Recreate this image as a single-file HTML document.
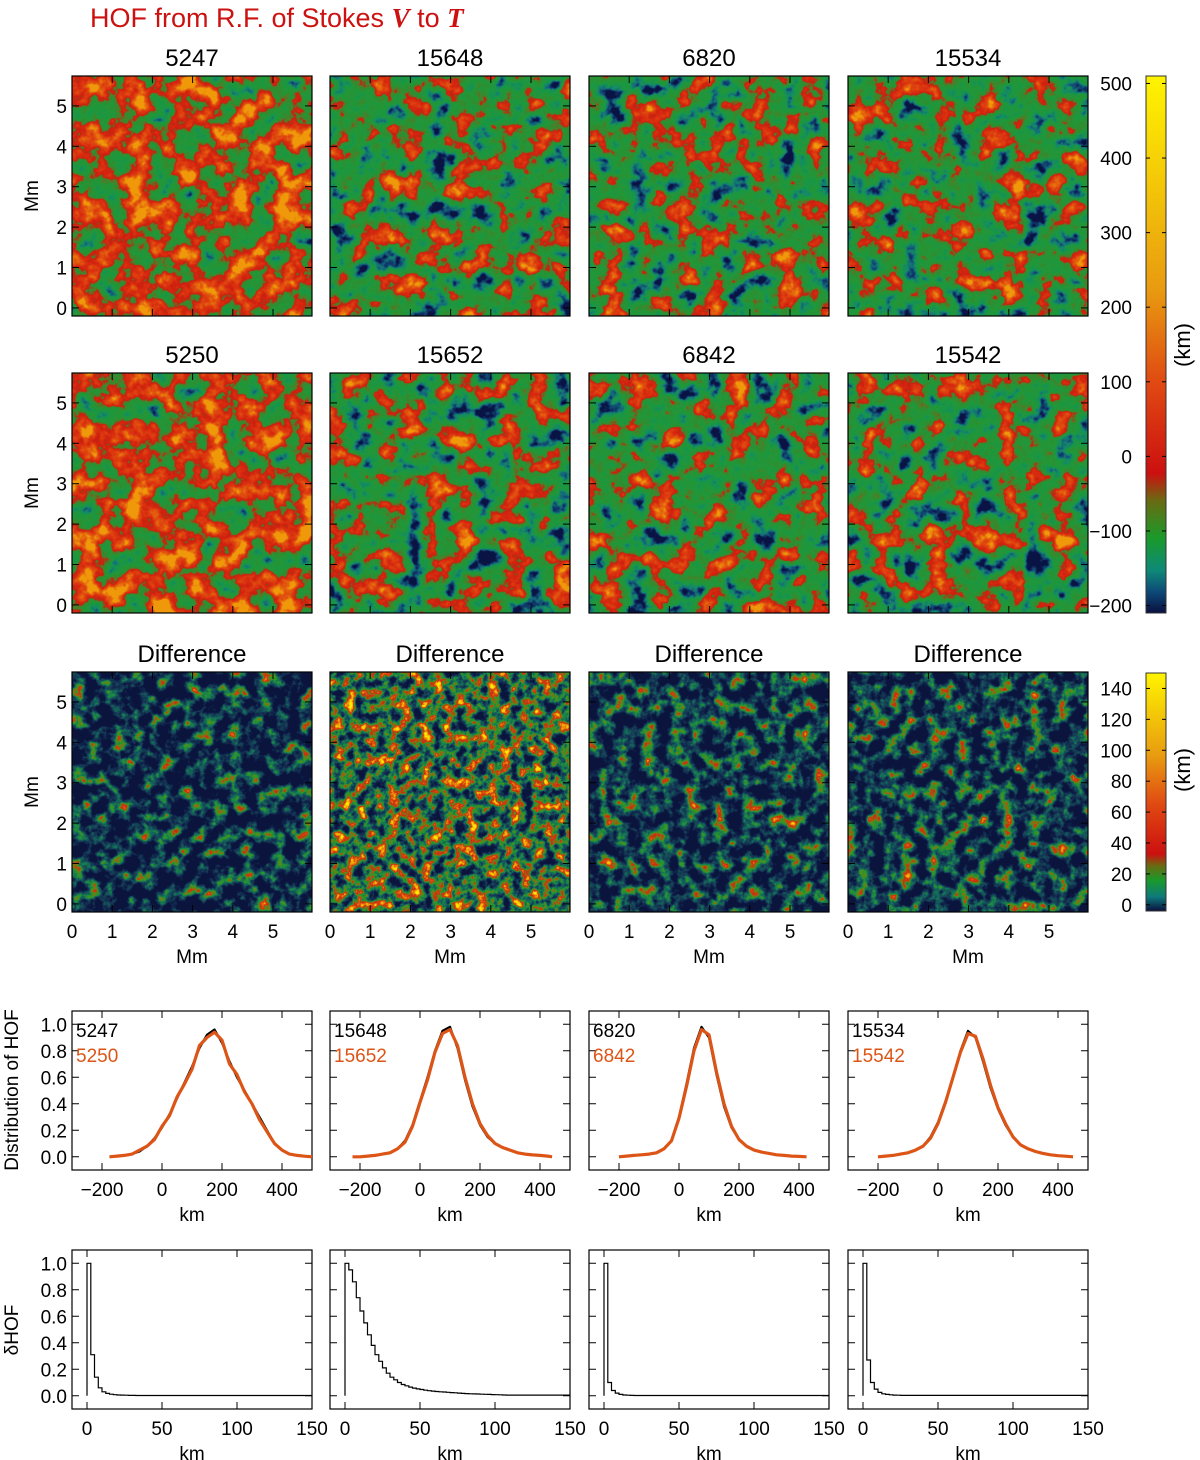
<!DOCTYPE html>
<html><head><meta charset="utf-8"><style>
html,body{margin:0;padding:0;background:#fff;}
svg{display:block;font-family:"Liberation Sans",sans-serif;}
</style></head><body>
<svg id="fig" width="1200" height="1460" viewBox="0 0 1200 1460" xmlns="http://www.w3.org/2000/svg">
<defs>
<linearGradient id="cbTop" x1="0" y1="1" x2="0" y2="0">
<stop offset="0" stop-color="#0a1040"/><stop offset="0.04" stop-color="#0d4a78"/><stop offset="0.08" stop-color="#0e8a78"/><stop offset="0.14" stop-color="#1a9a2a"/><stop offset="0.21" stop-color="#6a6a12"/><stop offset="0.26" stop-color="#cc1010"/><stop offset="0.43" stop-color="#e04a12"/><stop offset="0.6" stop-color="#e89a10"/><stop offset="1" stop-color="#fff400"/>
</linearGradient>
<linearGradient id="cbBot" x1="0" y1="1" x2="0" y2="0">
<stop offset="0" stop-color="#0a1040"/><stop offset="0.06" stop-color="#0e7a7a"/><stop offset="0.13" stop-color="#1a9a2a"/><stop offset="0.19" stop-color="#6a6a12"/><stop offset="0.24" stop-color="#cc1010"/><stop offset="0.45" stop-color="#e04a12"/><stop offset="0.65" stop-color="#e89a10"/><stop offset="1" stop-color="#fff400"/>
</linearGradient>
<filter id="mapA" x="0" y="0" width="100%" height="100%" color-interpolation-filters="sRGB">
<feTurbulence type="fractalNoise" baseFrequency="0.04" numOctaves="4" seed="7"/>
<feColorMatrix type="matrix" values="1.7 0 0 0 -0.2  1.7 0 0 0 -0.2  1.7 0 0 0 -0.2  0 0 0 0 1"/>
<feComponentTransfer>
<feFuncR type="table" tableValues="0.04 0.06 0.08 0.08 0.1 0.12 0.14 0.16 0.3 0.8 0.84 0.86 0.88 0.9 0.94"/>
<feFuncG type="table" tableValues="0.08 0.24 0.43 0.55 0.59 0.59 0.59 0.57 0.5 0.12 0.16 0.22 0.3 0.42 0.6"/>
<feFuncB type="table" tableValues="0.27 0.43 0.47 0.39 0.27 0.24 0.22 0.2 0.16 0.06 0.06 0.06 0.06 0.05 0.04"/>
</feComponentTransfer>
</filter>
<filter id="mapB" x="0" y="0" width="100%" height="100%" color-interpolation-filters="sRGB">
<feTurbulence type="fractalNoise" baseFrequency="0.04" numOctaves="4" seed="11"/>
<feColorMatrix type="matrix" values="1.7 0 0 0 -0.39  1.7 0 0 0 -0.39  1.7 0 0 0 -0.39  0 0 0 0 1"/>
<feComponentTransfer>
<feFuncR type="table" tableValues="0.04 0.06 0.08 0.08 0.1 0.12 0.14 0.16 0.3 0.8 0.84 0.86 0.88 0.9 0.94"/>
<feFuncG type="table" tableValues="0.08 0.24 0.43 0.55 0.59 0.59 0.59 0.57 0.5 0.12 0.16 0.22 0.3 0.42 0.6"/>
<feFuncB type="table" tableValues="0.27 0.43 0.47 0.39 0.27 0.24 0.22 0.2 0.16 0.06 0.06 0.06 0.06 0.05 0.04"/>
</feComponentTransfer>
</filter>
<filter id="difA" x="0" y="0" width="100%" height="100%" color-interpolation-filters="sRGB">
<feTurbulence type="fractalNoise" baseFrequency="0.07" numOctaves="4" seed="5"/>
<feColorMatrix type="matrix" values="1.8 0 0 0 -0.78  1.8 0 0 0 -0.78  1.8 0 0 0 -0.78  0 0 0 0 1"/>
<feComponentTransfer>
<feFuncR type="table" tableValues="0.04 0.06 0.08 0.08 0.08 0.12 0.24 0.6 0.8 0.86 0.92 0.96 1"/>
<feFuncG type="table" tableValues="0.08 0.14 0.22 0.31 0.43 0.55 0.59 0.4 0.16 0.31 0.55 0.75 0.92"/>
<feFuncB type="table" tableValues="0.24 0.29 0.33 0.35 0.35 0.24 0.12 0.08 0.06 0.06 0.04 0.02 0"/>
</feComponentTransfer>
</filter>
<filter id="difB" x="0" y="0" width="100%" height="100%" color-interpolation-filters="sRGB">
<feTurbulence type="fractalNoise" baseFrequency="0.09" numOctaves="4" seed="9"/>
<feColorMatrix type="matrix" values="1.9 0 0 0 -0.55  1.9 0 0 0 -0.55  1.9 0 0 0 -0.55  0 0 0 0 1"/>
<feComponentTransfer>
<feFuncR type="table" tableValues="0.04 0.06 0.08 0.08 0.08 0.12 0.24 0.6 0.8 0.86 0.92 0.96 1"/>
<feFuncG type="table" tableValues="0.08 0.14 0.22 0.31 0.43 0.55 0.59 0.4 0.16 0.31 0.55 0.75 0.92"/>
<feFuncB type="table" tableValues="0.24 0.29 0.33 0.35 0.35 0.24 0.12 0.08 0.06 0.06 0.04 0.02 0"/>
</feComponentTransfer>
</filter>
<filter id="difC" x="0" y="0" width="100%" height="100%" color-interpolation-filters="sRGB">
<feTurbulence type="fractalNoise" baseFrequency="0.07" numOctaves="4" seed="13"/>
<feColorMatrix type="matrix" values="1.8 0 0 0 -0.72  1.8 0 0 0 -0.72  1.8 0 0 0 -0.72  0 0 0 0 1"/>
<feComponentTransfer>
<feFuncR type="table" tableValues="0.04 0.06 0.08 0.08 0.08 0.12 0.24 0.6 0.8 0.86 0.92 0.96 1"/>
<feFuncG type="table" tableValues="0.08 0.14 0.22 0.31 0.43 0.55 0.59 0.4 0.16 0.31 0.55 0.75 0.92"/>
<feFuncB type="table" tableValues="0.24 0.29 0.33 0.35 0.35 0.24 0.12 0.08 0.06 0.06 0.04 0.02 0"/>
</feComponentTransfer>
</filter>
</defs>
<text x="90" y="27" font-size="27" fill="#cc1111">HOF from R.F. of Stokes <tspan font-family="Liberation Serif,serif" font-weight="bold" font-style="italic">V</tspan> to <tspan font-family="Liberation Serif,serif" font-weight="bold" font-style="italic">T</tspan></text>
<g id="root"></g>
</svg>
<script>
// ---- data ----
const colLeft = [72, 330, 589, 848];
const panelW = 240;
const topTitles = ['5247', '15648', '6820', '15534'];
const midTitles = ['5250', '15652', '6842', '15542'];
const mmTicks = [0, 1, 2, 3, 4, 5];
const cbTopTicks = [-200, -100, 0, 100, 200, 300, 400, 500];
const cbBotTicks = [0, 20, 40, 60, 80, 100, 120, 140];
const histTicksX = [-200, 0, 200, 400];
const histTicksY = [0.0, 0.2, 0.4, 0.6, 0.8, 1.0];
const dTicksX = [0, 50, 100, 150];

const histX1 = [-175,-150,-125,-100,-75,-50,-25,0,25,50,75,100,125,150,175,200,225,250,275,300,325,350,375,400,425,450,475,500];
const histBlack1 = [0,0.005,0.01,0.02,0.04,0.08,0.14,0.22,0.32,0.44,0.56,0.68,0.82,0.92,0.96,0.86,0.72,0.6,0.5,0.4,0.3,0.2,0.1,0.05,0.02,0.01,0.005,0];
const histOrange1 = [0,0.005,0.01,0.02,0.05,0.08,0.13,0.23,0.31,0.45,0.55,0.66,0.84,0.9,0.94,0.88,0.7,0.62,0.49,0.4,0.28,0.19,0.1,0.05,0.02,0.01,0.004,0];
const histX2 = [-225,-200,-175,-150,-125,-100,-75,-50,-25,0,25,50,75,100,125,150,175,200,225,250,275,300,325,350,375,400,425,440];
const histBlack2 = [0,0,0.005,0.01,0.02,0.03,0.06,0.12,0.24,0.42,0.6,0.8,0.95,0.98,0.82,0.58,0.38,0.24,0.15,0.1,0.07,0.05,0.03,0.02,0.015,0.01,0.005,0];
const histOrange2 = [0,0,0.005,0.01,0.02,0.03,0.06,0.11,0.23,0.41,0.58,0.79,0.93,0.96,0.84,0.6,0.4,0.25,0.16,0.1,0.07,0.05,0.03,0.02,0.014,0.01,0.005,0];
const histX3 = [-200,-175,-150,-125,-100,-75,-50,-25,0,25,50,75,100,125,150,175,200,225,250,275,300,325,350,375,400,425];
const histBlack3 = [0,0.005,0.01,0.015,0.02,0.03,0.06,0.12,0.3,0.55,0.82,0.98,0.9,0.62,0.38,0.22,0.13,0.08,0.05,0.035,0.025,0.015,0.01,0.005,0.003,0];
const histOrange3 = [0,0.005,0.01,0.015,0.02,0.03,0.06,0.12,0.29,0.53,0.8,0.96,0.92,0.64,0.4,0.23,0.13,0.08,0.05,0.035,0.025,0.015,0.01,0.005,0.003,0];
const histX4 = [-200,-175,-150,-125,-100,-75,-50,-25,0,25,50,75,100,125,150,175,200,225,250,275,300,325,350,375,400,425,450];
const histBlack4 = [0,0.005,0.01,0.02,0.03,0.05,0.08,0.15,0.26,0.42,0.6,0.8,0.95,0.9,0.72,0.52,0.36,0.24,0.15,0.09,0.06,0.04,0.025,0.015,0.008,0.004,0];
const histOrange4 = [0,0.005,0.01,0.02,0.03,0.05,0.08,0.14,0.25,0.41,0.6,0.79,0.93,0.91,0.74,0.54,0.37,0.25,0.15,0.09,0.06,0.04,0.025,0.015,0.008,0.004,0];

const dBin = 2.5;
const dHof1 = [1.0,0.31,0.14,0.06,0.03,0.018,0.012,0.008,0.006,0.005,0.004,0.003,0.003,0.002];
const dHof2 = [1.0,0.95,0.86,0.74,0.64,0.55,0.46,0.38,0.31,0.26,0.21,0.17,0.14,0.12,0.10,0.085,0.075,0.065,0.058,0.052,0.047,0.042,0.038,0.035,0.032,0.03,0.028,0.026,0.024,0.022,0.02,0.018,0.016,0.015,0.014,0.013,0.012,0.011,0.01,0.009,0.008,0.007,0.006,0.005];
const dHof3 = [1.0,0.1,0.04,0.02,0.01,0.006,0.004,0.003,0.002];
const dHof4 = [1.0,0.27,0.1,0.05,0.025,0.015,0.01,0.007,0.005,0.004,0.003];

const histXs = [histX1, histX2, histX3, histX4];
const histBlacks = [histBlack1, histBlack2, histBlack3, histBlack4];
const histOranges = [histOrange1, histOrange2, histOrange3, histOrange4];
const dHofs = [dHof1, dHof2, dHof3, dHof4];
const mapFilters = ['mapA', 'mapB', 'mapB', 'mapB'];
const difFilters = ['difA', 'difB', 'difC', 'difC'];

// ---- helpers ----
const NS = 'http://www.w3.org/2000/svg';
const root = document.getElementById('root');
function mk(tag, attrs, parent) {
  const e = document.createElementNS(NS, tag);
  for (const k in attrs) e.setAttribute(k, attrs[k]);
  (parent || root).appendChild(e);
  return e;
}
function txt(s, x, y, size, anchor, parent, fill) {
  const t = mk('text', {x: x, y: y, 'font-size': size, 'text-anchor': anchor || 'middle', fill: fill || '#000'}, parent);
  t.textContent = s;
  return t;
}
function lin(d0, d1, r0, r1) { return v => r0 + (v - d0) * (r1 - r0) / (d1 - d0); }

// ---- map rows ----
const mapRows = [
  {top: 76, titles: topTitles, kind: 'map'},
  {top: 373, titles: midTitles, kind: 'map'},
  {top: 672, titles: ['Difference','Difference','Difference','Difference'], kind: 'dif'}
];
mapRows.forEach((row, ri) => {
  for (let c = 0; c < 4; c++) {
    const x0 = colLeft[c], y0 = row.top;
    const g = mk('g', {});
    
    
    mk('rect', {x: x0, y: y0, width: panelW, height: 240, filter: 'url(#' + (row.kind === 'dif' ? difFilters[c] : mapFilters[c]) + ')'}, g);
    mk('rect', {x: x0, y: y0, width: panelW, height: 240, fill: 'none', stroke: '#000', 'stroke-width': 1.2}, g);
    const t = txt(row.titles[c], x0 + panelW / 2, y0 - 10, 24, 'middle');
    
    
    const sx = lin(0, 5.97, x0, x0 + panelW);
    const sy = lin(-0.2, 5.74, y0 + 240, y0);
    mmTicks.forEach(m => {
      mk('line', {x1: sx(m), y1: y0 + 240, x2: sx(m), y2: y0 + 233, stroke: '#000'}, g);
      mk('line', {x1: sx(m), y1: y0, x2: sx(m), y2: y0 + 7, stroke: '#000'}, g);
      mk('line', {x1: x0, y1: sy(m), x2: x0 + 7, y2: sy(m), stroke: '#000'}, g);
      mk('line', {x1: x0 + panelW, y1: sy(m), x2: x0 + panelW - 7, y2: sy(m), stroke: '#000'}, g);
      if (c === 0) txt(String(m), x0 - 5, sy(m) + 7, 19, 'end', g);
      if (row.kind === 'dif') txt(String(m), sx(m), y0 + 266, 19, 'middle', g);
    });
    if (row.kind === 'dif') {
      const l = txt('Mm', x0 + panelW / 2, y0 + 291, 19, 'middle');
      
      
    }
  }
  const yl = txt('Mm', 0, 0, 19, 'middle');
  yl.setAttribute('transform', 'translate(38,' + (row.top + 120) + ') rotate(-90)');
  
  
});

// ---- colorbars ----
function colorbar(y0, y1, grad, ticks, lo, hi, name, labelY) {
  const g = mk('g', {});
  
  
  mk('rect', {x: 1146, y: y0, width: 20, height: y1 - y0, fill: 'url(#' + grad + ')', stroke: '#333', 'stroke-width': 1}, g);
  const s = lin(lo, hi, y1, y0);
  ticks.forEach(v => {
    mk('line', {x1: 1146, y1: s(v), x2: 1150, y2: s(v), stroke: '#000'}, g);
    mk('line', {x1: 1166, y1: s(v), x2: 1162, y2: s(v), stroke: '#000'}, g);
    txt(v < 0 ? '\u2212' + Math.abs(v) : String(v), 1132, s(v) + 7, 19, 'end', g);
  });
  const l = txt('(km)', 0, 0, 22, 'middle', g);
  l.setAttribute('transform', 'translate(1190,' + labelY + ') rotate(-90)');
}
colorbar(76, 613, 'cbTop', cbTopTicks, -210, 510, 'colorbar-hof', 345);
colorbar(673, 911, 'cbBot', cbBotTicks, -4, 150, 'colorbar-difference', 770);

// ---- histogram rows ----
function linePlot(xs, ys, sx, sy, stroke, w, parent, name) {
  const pts = xs.map((x, i) => sx(x).toFixed(1) + ',' + sy(ys[i]).toFixed(1)).join(' ');
  const p = mk('polyline', {points: pts, fill: 'none', stroke: stroke, 'stroke-width': w, 'stroke-linejoin': 'round'}, parent);
  
  
}
for (let c = 0; c < 4; c++) {
  const x0 = colLeft[c];
  let top = 1011, bot = 1170;
  const g = mk('g', {});
  
  
  const sx = lin(-300, 500, x0, x0 + panelW);
  const sy = lin(-0.1, 1.1, bot, top);
  mk('rect', {x: x0, y: top, width: panelW, height: bot - top, fill: '#fff', stroke: '#000', 'stroke-width': 1.2}, g);
  histTicksX.forEach(v => {
    mk('line', {x1: sx(v), y1: bot, x2: sx(v), y2: bot - 7, stroke: '#000'}, g);
    mk('line', {x1: sx(v), y1: top, x2: sx(v), y2: top + 7, stroke: '#000'}, g);
    txt(v < 0 ? '\u2212' + Math.abs(v) : String(v), sx(v), bot + 26, 19, 'middle', g);
  });
  histTicksY.forEach(v => {
    mk('line', {x1: x0, y1: sy(v), x2: x0 + 7, y2: sy(v), stroke: '#000'}, g);
    mk('line', {x1: x0 + panelW, y1: sy(v), x2: x0 + panelW - 7, y2: sy(v), stroke: '#000'}, g);
    if (c === 0) txt(v.toFixed(1), x0 - 5, sy(v) + 7, 19, 'end', g);
  });
  linePlot(histXs[c], histBlacks[c], sx, sy, '#000', 2.2, g, 'series-' + topTitles[c]);
  linePlot(histXs[c], histOranges[c], sx, sy, '#dd5516', 3.2, g, 'series-' + midTitles[c]);
  const l1 = txt(topTitles[c], x0 + 4, top + 26, 19, 'start', g);
  
  
  const l2 = txt(midTitles[c], x0 + 4, top + 51, 19, 'start', g, '#dd5516');
  
  
  txt('km', x0 + panelW / 2, bot + 51, 19, 'middle', g);

  top = 1250; bot = 1409;
  const g2 = mk('g', {});
  
  
  const dx = lin(-10, 150, x0, x0 + panelW);
  const dy = lin(-0.1, 1.1, bot, top);
  mk('rect', {x: x0, y: top, width: panelW, height: bot - top, fill: '#fff', stroke: '#000', 'stroke-width': 1.2}, g2);
  dTicksX.forEach(v => {
    mk('line', {x1: dx(v), y1: bot, x2: dx(v), y2: bot - 7, stroke: '#000'}, g2);
    mk('line', {x1: dx(v), y1: top, x2: dx(v), y2: top + 7, stroke: '#000'}, g2);
    txt(String(v), dx(v), bot + 26, 19, 'middle', g2);
  });
  histTicksY.forEach(v => {
    mk('line', {x1: x0, y1: dy(v), x2: x0 + 7, y2: dy(v), stroke: '#000'}, g2);
    mk('line', {x1: x0 + panelW, y1: dy(v), x2: x0 + panelW - 7, y2: dy(v), stroke: '#000'}, g2);
    if (c === 0) txt(v.toFixed(1), x0 - 5, dy(v) + 7, 19, 'end', g2);
  });
  const vals = dHofs[c];
  let d = 'M' + dx(0).toFixed(1) + ',' + dy(0).toFixed(1);
  vals.forEach((v, i) => {
    d += ' L' + dx(i * dBin).toFixed(1) + ',' + dy(v).toFixed(1) + ' L' + dx((i + 1) * dBin).toFixed(1) + ',' + dy(v).toFixed(1);
  });
  d += ' L' + dx(150).toFixed(1) + ',' + dy(vals[vals.length - 1]).toFixed(1);
  const p = mk('path', {d: d, fill: 'none', stroke: '#000', 'stroke-width': 1.2}, g2);
  
  
  txt('km', x0 + panelW / 2, bot + 51, 19, 'middle', g2);
}
const ya = txt('Distribution of HOF', 0, 0, 19, 'middle');
ya.setAttribute('transform', 'translate(18,1090) rotate(-90)');


const yb = txt('\u03b4HOF', 0, 0, 19, 'middle');
yb.setAttribute('transform', 'translate(18,1330) rotate(-90)');


</script>
</body></html>
